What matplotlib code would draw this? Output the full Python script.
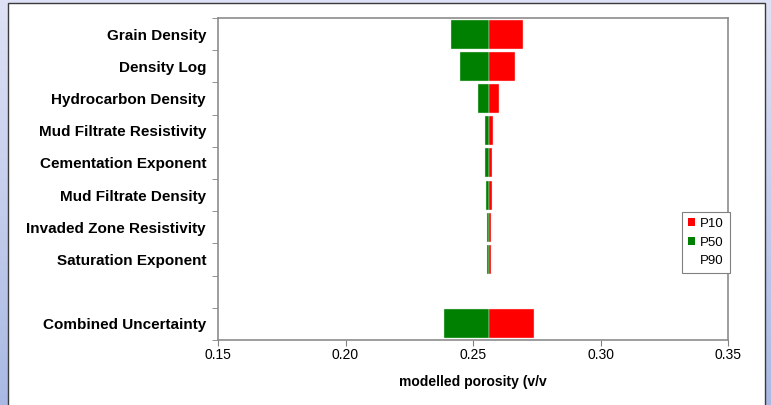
import numpy as np
import matplotlib
matplotlib.use("Agg")
from matplotlib import pyplot as plt
from matplotlib.patches import Rectangle, Patch

plt.rcParams['font.family'] = ['Liberation Sans', 'DejaVu Sans']

# tornado data, top to bottom (blank row before the combined case)
labels = ["Grain Density", "Density Log", "Hydrocarbon Density",
          "Mud Filtrate Resistivity", "Cementation Exponent",
          "Mud Filtrate Density", "Invaded Zone Resistivity",
          "Saturation Exponent", "", "Combined Uncertainty"]
p90 = [0.2414, 0.2450, 0.2520, 0.2546, 0.2548, 0.2550, 0.2553, 0.2554, np.nan, 0.2387]
p50 = [0.2561, 0.2561, 0.2561, 0.2561, 0.2561, 0.2561, 0.2561, 0.2561, np.nan, 0.2561]
p10 = [0.2698, 0.2663, 0.2602, 0.2578, 0.2575, 0.2574, 0.2571, 0.2570, np.nan, 0.2738]

fig = plt.figure(figsize=(7.71, 4.05), dpi=100)

# blue gradient background + white panel
bg = fig.add_axes([0, 0, 1, 1], zorder=-10)
grad = np.linspace(0, 1, 256).reshape(-1, 1)
cmap = matplotlib.colors.LinearSegmentedColormap.from_list("bg", ["#dfe2f6", "#a9b9e3"])
bg.imshow(grad, aspect="auto", cmap=cmap, extent=[0, 1, 0, 1], origin="upper")
bg.add_patch(Rectangle((8 / 771, -0.05), (765 - 8) / 771, 1.05 - 3 / 405,
                       facecolor="white", edgecolor="#3a3a3a", lw=1.0))
bg.set_xlim(0, 1)
bg.set_ylim(0, 1)
bg.axis("off")

ax = fig.add_axes([218 / 771, 65 / 405, 510 / 771, 322 / 405])
y = np.arange(len(labels))
lo = np.array(p90)
mid = np.array(p50)
hi = np.array(p10)
ax.barh(y, mid - lo, left=lo, height=0.9, color="#008000", edgecolor="#d8ecd8", lw=0.3)
ax.barh(y, hi - mid, left=mid, height=0.9, color="#ff0000", edgecolor="#ffdede", lw=0.3)

ax.set_ylim(len(labels) - 0.5, -0.5)
ax.set_yticks(y)
ax.set_yticklabels(labels, fontsize=11, fontweight="bold")
ax.set_yticks(np.arange(-0.5, len(labels)), minor=True)
ax.tick_params(axis="y", which="major", length=0, pad=8.6)
ax.tick_params(axis="y", which="minor", length=4, color="#808080")

ax.set_xlim(0.15, 0.35)
ax.set_xticks([0.15, 0.20, 0.25, 0.30, 0.35])
ax.set_xticklabels(["0.15", "0.20", "0.25", "0.30", "0.35"], fontsize=10)
ax.tick_params(axis="x", length=4, color="#808080", pad=2)
ax.set_xlabel("modelled porosity (v/v", fontsize=10, fontweight="bold", labelpad=9)
for s in ax.spines.values():
    s.set_color("#8c8c8c")
    s.set_linewidth(1.2)

handles = [Patch(facecolor="#ff0000"), Patch(facecolor="#008000"), Patch(facecolor="none", edgecolor="none")]
leg = ax.legend(handles, ["P10", "P50", "P90"], loc="upper left",
                bbox_to_anchor=(464 / 510, 1 - 194 / 322), borderaxespad=0, fontsize=9.5,
                handlelength=0.5, handleheight=0.5, handletextpad=0.4,
                borderpad=0.45, labelspacing=0.5, fancybox=False, framealpha=1)
leg.get_frame().set_edgecolor("#808080")
leg.get_frame().set_linewidth(0.8)

fig.savefig("out.png", dpi=100)
